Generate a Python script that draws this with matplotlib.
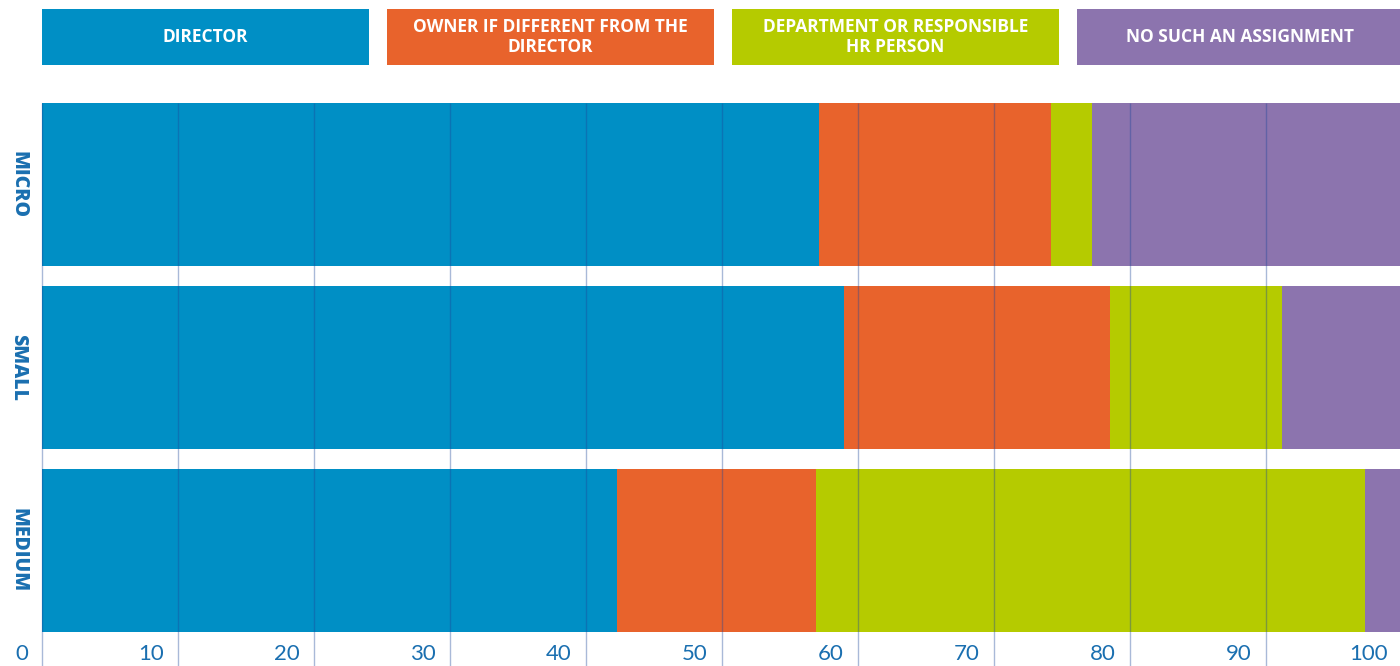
import matplotlib.pyplot as plt
from matplotlib.patches import Rectangle
import numpy as np

plt.rcParams['font.family'] = ['Open Sans', 'DejaVu Sans']

categories = ['MICRO', 'SMALL', 'MEDIUM']
series_names = ['DIRECTOR', 'OWNER IF DIFFERENT FROM THE\nDIRECTOR',
                'DEPARTMENT OR RESPONSIBLE\nHR PERSON', 'NO SUCH AN ASSIGNMENT']
director = [57.1, 59.0, 42.3]
owner = [17.1, 19.5, 14.6]
department = [3.0, 12.7, 40.4]
no_assignment = [22.8, 8.8, 2.7]
ticks = [0, 10, 20, 30, 40, 50, 60, 70, 80, 90, 100]

colors = ['#008fc5', '#e8632c', '#b5cb00', '#8c74ae']
label_blue = '#1a6fb0'

W, H = 1400, 666
fig = plt.figure(figsize=(W / 100, H / 100), dpi=100)

# plot area in pixels: x 42..1402, y 103..632
ax = fig.add_axes([42 / W, 1 - 632 / H, 1360 / W, (632 - 103) / H])
bar_h = 163 / 183
y = np.arange(len(categories))
left = np.zeros(len(categories))
for vals, c in zip([director, owner, department, no_assignment], colors):
    ax.barh(y, vals, left=left, height=bar_h, color=c, linewidth=0, zorder=1)
    left += np.array(vals)

ax.set_xlim(0, 100)
ytop = -bar_h / 2
ybot = len(categories) - 1 + bar_h / 2
ax.set_ylim(ybot, ytop)

# grid lines run from the top of the bars down through the tick labels
extra = (666 - 632) / 183
ax.vlines(ticks[:-1], ytop, ybot + extra, colors=(0.12, 0.28, 0.6), alpha=0.38,
          linewidth=1.0, clip_on=False, zorder=3)

for s in ax.spines.values():
    s.set_visible(False)
ax.set_xticks([])
ax.set_yticks([])

# tick labels, right aligned just left of each grid line
for t in ticks:
    ax.annotate(str(t), xy=(t, 0), xycoords=('data', 'axes fraction'),
                xytext=(-14, -22), textcoords='offset pixels',
                ha='right', va='center', color=label_blue, fontsize=16,
                fontfamily=['Lato', 'DejaVu Sans'])

# category labels, rotated to read downward
for i, cat in enumerate(categories):
    fig.text(18 / W, 1 - (103 + 81.5 + i * 183) / H, cat, rotation=-90,
             ha='center', va='center', color=label_blue, fontsize=14,
             fontweight='heavy')

# legend boxes across the top
box_w, gap = 327, 18
for i, (name, c) in enumerate(zip(series_names, colors)):
    x0 = 42 + i * (box_w + gap)
    fig.patches.append(Rectangle((x0 / W, 1 - 65 / H), box_w / W, 56 / H,
                                 transform=fig.transFigure, facecolor=c,
                                 edgecolor='none'))
    fig.text((x0 + box_w / 2) / W, 1 - 37 / H, name, ha='center', va='center',
             color='white', fontsize=12.5, fontweight='bold', linespacing=1.1)

fig.savefig('out.png', dpi=100)
